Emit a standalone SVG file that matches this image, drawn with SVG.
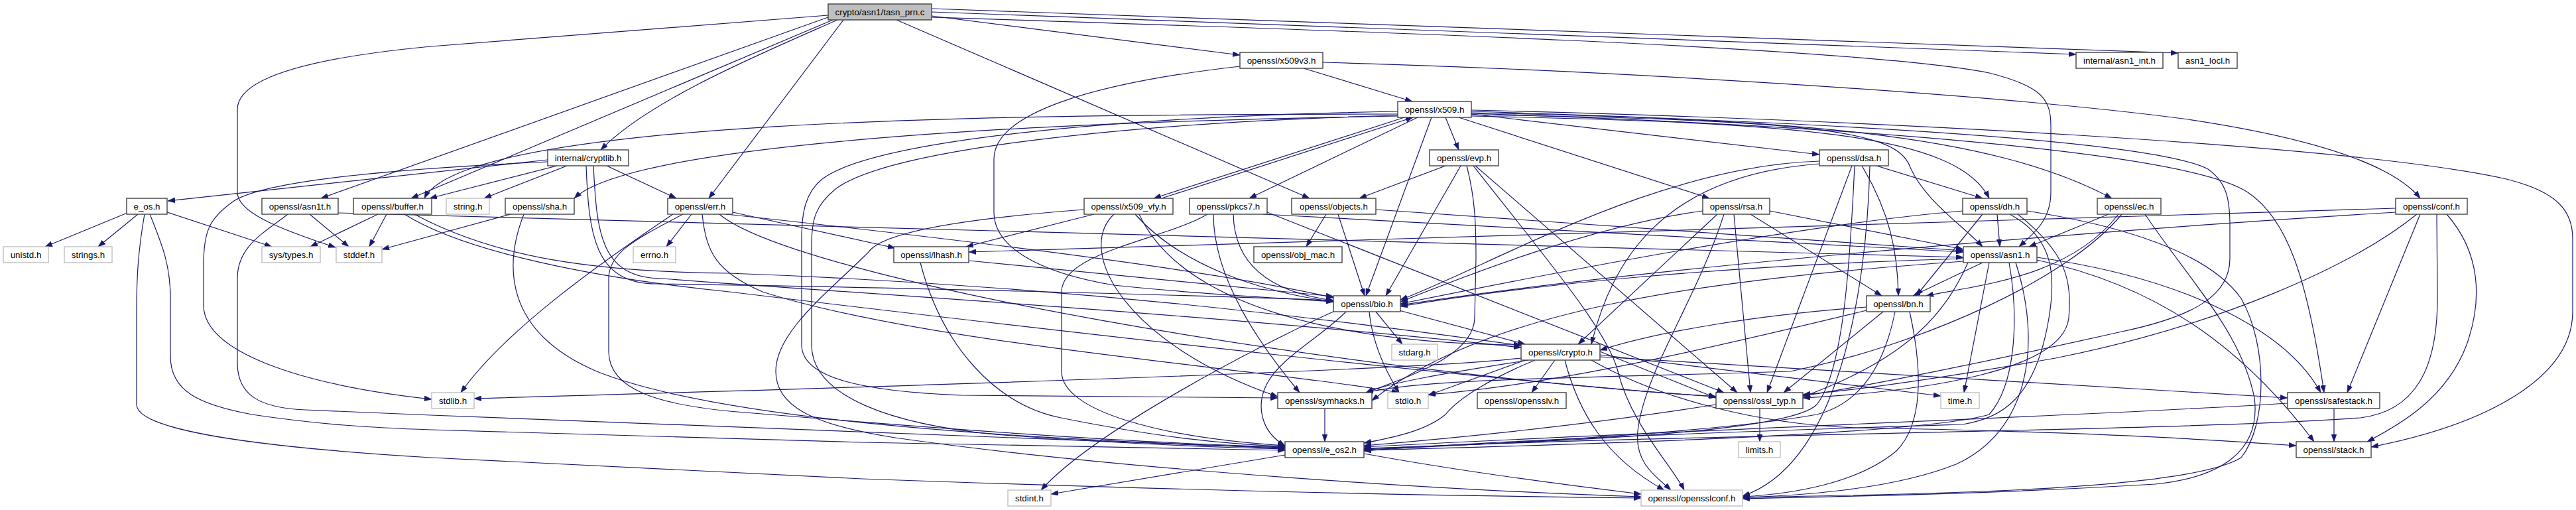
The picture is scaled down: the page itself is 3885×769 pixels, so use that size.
<svg xmlns="http://www.w3.org/2000/svg" width="3885" height="769" viewBox="0 0 3885 769">
<style>
.edge path{fill:none;stroke:#191970;stroke-width:1.2;marker-end:url(#arr)}
.node rect{fill:#ffffff;stroke:#404040;stroke-width:1.4}
.node.ext rect{stroke:#bfbfbf}
.node.root rect{fill:#bfbfbf}
.node text{font-family:"Liberation Sans",Arial,Helvetica,sans-serif;font-size:13.33px;fill:#000;text-anchor:middle}
</style>
<defs>
<marker id="arr" markerUnits="userSpaceOnUse" markerWidth="11" markerHeight="8" refX="11" refY="4" orient="auto">
<path d="M0,0 L11,4 L0,8 z" fill="#191970" stroke="#191970" stroke-width="0.5"/>
</marker>
</defs>
<rect x="0" y="0" width="3885" height="769" fill="#ffffff"/>
<g id="edges" class="edge">
<path d="M1249,23 L650,70 C480,86 358,115 358,165 L358,290 C358,320 420,345 506,373"/>
<path d="M1263,30 C1150,80 980,150 906,226"/>
<path d="M1405,26 C2000,45 2800,70 3000,110 C3080,130 3093,150 3093,190 L3093,290 C3093,330 3070,350 3045,372"/>
<path d="M1249,26 L484,299"/>
<path d="M1352,30 L1975,299"/>
<path d="M1256,30 L620,299"/>
<path d="M1272,30 L1069,299"/>
<path d="M1405,24 L1870,83"/>
<path d="M1405,18 L3131,82"/>
<path d="M1405,13 L3285,80"/>
<path d="M1870,100 C1650,125 1499,170 1499,240 L1499,320 C1499,370 1560,410 1680,430 C1820,445 1950,450 2011,455"/>
<path d="M1995,94 C2400,105 3000,140 3300,180 C3500,210 3610,250 3650,299"/>
<path d="M1966,103 L2130,153"/>
<path d="M2180,177 L2200,226"/>
<path d="M2159,177 L2060,446"/>
<path d="M2200,177 L2578,299"/>
<path d="M2219,172 L2744,233"/>
<path d="M2219,175 C2700,185 2950,200 3000,299"/>
<path d="M2219,170 C2700,180 3000,200 3185,299"/>
<path d="M2219,173 C2750,180 2860,200 2880,250 C2900,300 2960,340 2990,372"/>
<path d="M2108,172 C1500,172 700,180 640,299"/>
<path d="M2108,175 C1500,185 950,220 866,299"/>
<path d="M2118,177 L1740,299"/>
<path d="M1752,299 L2131,177"/>
<path d="M2138,177 L1884,299"/>
<path d="M2108,174 C1700,185 1340,225 1260,285 C1230,310 1224,330 1224,370 L1224,520 C1224,600 1350,640 1500,655 C1700,670 1850,675 1938,677"/>
<path d="M2108,168 C1700,175 1320,210 1240,270 C1215,290 1209,320 1209,360 L1209,520 C1209,570 1300,590 1450,596 L1927,600"/>
<path d="M2219,168 C2800,186 3250,213 3330,255 C3358,275 3363,300 3363,340 L3363,390 C3363,440 3320,475 3200,500 C3000,545 2800,585 2719,597"/>
<path d="M2219,166 C2800,180 3550,218 3780,270 C3860,290 3880,320 3880,360 L3880,470 C3880,570 3750,640 3576,674"/>
<path d="M2219,171 C2800,190 3300,230 3390,290 C3450,330 3480,420 3505,592"/>
<path d="M826,244 C650,252 400,268 350,305 C315,330 307,350 307,400 L307,460 C307,530 450,580 651,602"/>
<path d="M826,241 L253,303"/>
<path d="M855,250 L730,299"/>
<path d="M840,250 L648,299"/>
<path d="M915,250 L1020,299"/>
<path d="M895,250 C900,350 905,420 1000,420 C1100,430 1800,470 2294,524"/>
<path d="M884,250 C888,350 895,428 990,428 C1300,432 1800,445 2011,453"/>
<path d="M2180,250 L2050,299"/>
<path d="M2203,250 L2090,446"/>
<path d="M2212,250 C2225,300 2226,340 2226,390 L2224,480 C2222,530 2150,560 2060,592"/>
<path d="M2222,250 C2340,400 2425,500 2440,560 C2460,640 2520,700 2540,739"/>
<path d="M2225,250 L2620,592"/>
<path d="M2830,250 L2990,299"/>
<path d="M2808,250 C2850,320 2862,380 2863,446"/>
<path d="M2793,250 L2665,592"/>
<path d="M2797,250 C2790,400 2780,560 2740,610 C2700,650 2400,665 2057,676"/>
<path d="M2820,250 C2815,450 2770,700 2628,748"/>
<path d="M2744,243 C2500,250 2250,400 2112,452"/>
<path d="M2744,247 C2500,265 2430,400 2400,519"/>
<path d="M192,321 L68,372"/>
<path d="M208,323 L148,372"/>
<path d="M252,320 L410,372"/>
<path d="M226,323 C245,370 257,400 257,450 L257,537 C257,590 300,610 380,625 C480,640 560,645 650,648 L1300,667 L1938,679"/>
<path d="M218,323 C208,380 206,420 206,470 L206,610 C206,650 400,675 650,690 L1300,722 C1800,740 2200,748 2475,751"/>
<path d="M467,323 L526,372"/>
<path d="M434,323 C400,350 358,370 358,420 L358,547 C358,595 390,615 460,618 L650,626 L1938,676"/>
<path d="M510,321 L2961,388"/>
<path d="M570,323 L468,372"/>
<path d="M583,323 L557,372"/>
<path d="M610,323 C700,380 900,420 1100,440 C1600,500 2300,580 2588,598"/>
<path d="M625,323 C750,390 900,410 1100,412 C1600,430 2000,480 2294,521"/>
<path d="M770,323 L576,376"/>
<path d="M790,323 C760,400 760,500 900,560 C1100,640 1600,665 1938,675"/>
<path d="M1043,323 L1005,372"/>
<path d="M1015,323 C900,400 760,500 695,592"/>
<path d="M1030,323 C960,360 918,380 918,420 L918,530 C918,590 1000,610 1100,620 C1400,645 1700,668 1938,674"/>
<path d="M1059,323 C1065,380 1080,410 1150,440 C1400,520 1900,555 2110,592"/>
<path d="M1085,323 C1200,420 2000,560 2588,598"/>
<path d="M1095,323 C1300,345 1800,400 2011,449"/>
<path d="M1105,320 L1350,374"/>
<path d="M1650,323 L1457,372"/>
<path d="M1635,316 C1450,330 1330,350 1310,380 C1250,440 1170,500 1170,560 C1170,610 1220,640 1350,660 C1700,710 2200,740 2475,749"/>
<path d="M1712,323 C1780,400 1900,440 2011,455"/>
<path d="M1718,323 C1800,500 2150,520 2294,520"/>
<path d="M1680,323 C1620,380 1700,520 1927,598"/>
<path d="M1905,323 L2961,380"/>
<path d="M1860,323 C1862,420 1950,445 2011,453"/>
<path d="M1821,323 C1760,360 1601,380 1601,440 L1601,560 C1601,620 1750,660 1938,672"/>
<path d="M1830,323 C1830,420 1900,520 1960,592"/>
<path d="M1911,320 L2600,592"/>
<path d="M2000,323 L1970,372"/>
<path d="M2018,323 L2058,446"/>
<path d="M2075,316 L2961,378"/>
<path d="M2669,318 L2961,376"/>
<path d="M2640,323 L2838,446"/>
<path d="M2568,318 C2400,340 2200,420 2112,455"/>
<path d="M2590,323 L2380,519"/>
<path d="M2615,323 L2640,592"/>
<path d="M2600,323 C2560,450 2480,560 2470,650 C2465,700 2500,720 2520,739"/>
<path d="M3012,323 L3016,372"/>
<path d="M2990,323 L2890,446"/>
<path d="M2960,318 C2700,340 2300,420 2112,458"/>
<path d="M3031,323 C3100,360 3100,420 3090,480 C3070,600 3020,630 2960,640 C2800,645 2300,660 2057,680"/>
<path d="M3043,323 C3115,380 3125,420 3120,480 C3110,560 2900,590 2719,600"/>
<path d="M3057,318 C3200,340 3330,380 3380,450 C3420,520 3420,640 3380,690 C3300,740 2900,745 2628,750"/>
<path d="M3180,323 L3060,372"/>
<path d="M3195,323 C3120,420 2980,430 2905,446"/>
<path d="M3200,323 C3120,420 2900,520 2700,560 C2400,570 2150,570 2060,592"/>
<path d="M3235,323 C3300,420 3380,500 3400,600 C3410,680 3350,720 3250,730 C3000,745 2800,748 2628,752"/>
<path d="M3613,314 L1461,380"/>
<path d="M3613,320 C3200,345 2500,400 2112,460"/>
<path d="M3690,323 C3740,380 3745,450 3720,520 C3690,600 3620,640 3570,666"/>
<path d="M3650,323 L3540,592"/>
<path d="M3675,323 L3676,450 C3676,560 3640,620 3560,630 C3300,650 2500,655 2057,677"/>
<path d="M3645,323 C3550,400 3350,490 3100,540 C2900,575 2780,590 2719,595"/>
<path d="M1388,396 C1420,520 1500,610 1600,630 C1750,660 1850,670 1938,673"/>
<path d="M1461,393 L2011,447"/>
<path d="M2990,396 L2885,446"/>
<path d="M3000,396 L2962,592"/>
<path d="M2961,390 C2600,400 2300,430 2112,462"/>
<path d="M2968,396 C2935,470 2880,540 2719,598"/>
<path d="M3030,396 C3045,480 3040,580 3000,625 C2900,655 2400,670 2057,679"/>
<path d="M3040,396 C3080,520 3060,650 2950,700 C2850,740 2700,748 2628,750"/>
<path d="M3072,392 C3250,430 3380,520 3490,666"/>
<path d="M3072,388 C3300,420 3450,500 3500,592"/>
<path d="M2961,394 C2600,420 2250,460 2069,604"/>
<path d="M2075,470 L2115,519"/>
<path d="M2110,468 L2300,519"/>
<path d="M2065,470 C2070,520 2090,560 2110,592"/>
<path d="M2030,470 C1990,510 1930,540 1910,580 C1895,610 1900,650 1938,672"/>
<path d="M2015,468 C1900,520 1650,650 1570,739"/>
<path d="M2815,463 C2650,475 2500,500 2413,528"/>
<path d="M2815,468 C2600,520 2350,580 2154,595"/>
<path d="M2840,470 L2690,592"/>
<path d="M2858,470 C2840,560 2800,610 2740,625 C2600,650 2300,668 2057,678"/>
<path d="M2880,470 C2900,560 2900,640 2860,680 C2800,730 2700,745 2628,749"/>
<path d="M2294,540 C2200,552 1800,570 715,601"/>
<path d="M2413,535 L2927,597"/>
<path d="M2315,543 C2250,570 2200,600 2180,625 C2150,650 2100,660 2057,668"/>
<path d="M2300,543 L2154,596"/>
<path d="M2345,543 L2310,592"/>
<path d="M2360,543 C2380,620 2420,690 2510,739"/>
<path d="M2400,543 C2500,600 2650,640 2800,645 C3100,650 3300,660 3463,672"/>
<path d="M2413,538 L3450,600"/>
<path d="M2413,530 L2588,600"/>
<path d="M2305,543 C2200,560 2100,575 2060,592"/>
<path d="M1998,616 L1998,666"/>
<path d="M2654,616 L2654,666"/>
<path d="M2588,610 C2400,640 2200,660 2057,672"/>
<path d="M3520,616 L3520,666"/>
<path d="M3450,608 C3200,625 2500,650 2057,674"/>
<path d="M2057,684 C2200,710 2350,730 2475,745"/>
<path d="M1938,686 L1585,745"/>
</g>
<g id="node-tasn_prn_c" class="node root"><rect x="1249" y="6" width="156" height="24"/><text x="1327" y="22.7">crypto/asn1/tasn_prn.c</text></g>
<g id="node-x509v3_h" class="node"><rect x="1870" y="79" width="125" height="24"/><text x="1932.5" y="95.7">openssl/x509v3.h</text></g>
<g id="node-asn1_int_h" class="node"><rect x="3131" y="79" width="131" height="24"/><text x="3196.5" y="95.7">internal/asn1_int.h</text></g>
<g id="node-asn1_locl_h" class="node"><rect x="3285" y="79" width="89" height="24"/><text x="3329.5" y="95.7">asn1_locl.h</text></g>
<g id="node-x509_h" class="node"><rect x="2108" y="153" width="111" height="24"/><text x="2163.5" y="169.7">openssl/x509.h</text></g>
<g id="node-cryptlib_h" class="node"><rect x="826" y="226" width="122" height="24"/><text x="887" y="242.7">internal/cryptlib.h</text></g>
<g id="node-evp_h" class="node"><rect x="2156" y="226" width="104" height="24"/><text x="2208" y="242.7">openssl/evp.h</text></g>
<g id="node-dsa_h" class="node"><rect x="2744" y="226" width="104" height="24"/><text x="2796" y="242.7">openssl/dsa.h</text></g>
<g id="node-e_os_h" class="node"><rect x="191" y="299" width="61" height="24"/><text x="221.5" y="315.7">e_os.h</text></g>
<g id="node-asn1t_h" class="node"><rect x="395" y="299" width="115" height="24"/><text x="452.5" y="315.7">openssl/asn1t.h</text></g>
<g id="node-buffer_h" class="node"><rect x="533" y="299" width="118" height="24"/><text x="592" y="315.7">openssl/buffer.h</text></g>
<g id="node-string_h" class="node ext"><rect x="673" y="299" width="65" height="24"/><text x="705.5" y="315.7">string.h</text></g>
<g id="node-sha_h" class="node"><rect x="762" y="299" width="104" height="24"/><text x="814" y="315.7">openssl/sha.h</text></g>
<g id="node-err_h" class="node"><rect x="1007" y="299" width="98" height="24"/><text x="1056" y="315.7">openssl/err.h</text></g>
<g id="node-x509_vfy_h" class="node"><rect x="1635" y="299" width="134" height="24"/><text x="1702" y="315.7">openssl/x509_vfy.h</text></g>
<g id="node-pkcs7_h" class="node"><rect x="1794" y="299" width="117" height="24"/><text x="1852.5" y="315.7">openssl/pkcs7.h</text></g>
<g id="node-objects_h" class="node"><rect x="1948" y="299" width="127" height="24"/><text x="2011.5" y="315.7">openssl/objects.h</text></g>
<g id="node-rsa_h" class="node"><rect x="2568" y="299" width="101" height="24"/><text x="2618.5" y="315.7">openssl/rsa.h</text></g>
<g id="node-dh_h" class="node"><rect x="2960" y="299" width="97" height="24"/><text x="3008.5" y="315.7">openssl/dh.h</text></g>
<g id="node-ec_h" class="node"><rect x="3163" y="299" width="96" height="24"/><text x="3211" y="315.7">openssl/ec.h</text></g>
<g id="node-conf_h" class="node"><rect x="3613" y="299" width="108" height="24"/><text x="3667" y="315.7">openssl/conf.h</text></g>
<g id="node-unistd_h" class="node ext"><rect x="5" y="372" width="68" height="24"/><text x="39" y="388.7">unistd.h</text></g>
<g id="node-strings_h" class="node ext"><rect x="97" y="372" width="72" height="24"/><text x="133" y="388.7">strings.h</text></g>
<g id="node-sys_types_h" class="node ext"><rect x="395" y="372" width="88" height="24"/><text x="439" y="388.7">sys/types.h</text></g>
<g id="node-stddef_h" class="node ext"><rect x="507" y="372" width="69" height="24"/><text x="541.5" y="388.7">stddef.h</text></g>
<g id="node-errno_h" class="node ext"><rect x="955" y="372" width="64" height="24"/><text x="987" y="388.7">errno.h</text></g>
<g id="node-lhash_h" class="node"><rect x="1348" y="372" width="113" height="24"/><text x="1404.5" y="388.7">openssl/lhash.h</text></g>
<g id="node-obj_mac_h" class="node"><rect x="1891" y="372" width="133" height="24"/><text x="1957.5" y="388.7">openssl/obj_mac.h</text></g>
<g id="node-asn1_h" class="node"><rect x="2961" y="372" width="111" height="24"/><text x="3016.5" y="388.7">openssl/asn1.h</text></g>
<g id="node-bio_h" class="node"><rect x="2011" y="446" width="101" height="24"/><text x="2061.5" y="462.7">openssl/bio.h</text></g>
<g id="node-bn_h" class="node"><rect x="2815" y="446" width="96" height="24"/><text x="2863" y="462.7">openssl/bn.h</text></g>
<g id="node-stdarg_h" class="node ext"><rect x="2099" y="519" width="69" height="24"/><text x="2133.5" y="535.7">stdarg.h</text></g>
<g id="node-crypto_h" class="node"><rect x="2294" y="519" width="119" height="24"/><text x="2353.5" y="535.7">openssl/crypto.h</text></g>
<g id="node-stdlib_h" class="node ext"><rect x="651" y="592" width="64" height="24"/><text x="683" y="608.7">stdlib.h</text></g>
<g id="node-symhacks_h" class="node"><rect x="1927" y="592" width="142" height="24"/><text x="1998" y="608.7">openssl/symhacks.h</text></g>
<g id="node-stdio_h" class="node ext"><rect x="2093" y="592" width="61" height="24"/><text x="2123.5" y="608.7">stdio.h</text></g>
<g id="node-opensslv_h" class="node"><rect x="2228" y="592" width="134" height="24"/><text x="2295" y="608.7">openssl/opensslv.h</text></g>
<g id="node-ossl_typ_h" class="node"><rect x="2588" y="592" width="131" height="24"/><text x="2653.5" y="608.7">openssl/ossl_typ.h</text></g>
<g id="node-time_h" class="node ext"><rect x="2927" y="592" width="58" height="24"/><text x="2956" y="608.7">time.h</text></g>
<g id="node-safestack_h" class="node"><rect x="3450" y="592" width="139" height="24"/><text x="3519.5" y="608.7">openssl/safestack.h</text></g>
<g id="node-e_os2_h" class="node"><rect x="1938" y="666" width="119" height="24"/><text x="1997.5" y="682.7">openssl/e_os2.h</text></g>
<g id="node-limits_h" class="node ext"><rect x="2622" y="666" width="63" height="24"/><text x="2653.5" y="682.7">limits.h</text></g>
<g id="node-stack_h" class="node"><rect x="3463" y="666" width="113" height="24"/><text x="3519.5" y="682.7">openssl/stack.h</text></g>
<g id="node-stdint_h" class="node ext"><rect x="1520" y="739" width="65" height="24"/><text x="1552.5" y="755.7">stdint.h</text></g>
<g id="node-opensslconf_h" class="node ext"><rect x="2475" y="739" width="153" height="24"/><text x="2551.5" y="755.7">openssl/opensslconf.h</text></g>
</svg>
